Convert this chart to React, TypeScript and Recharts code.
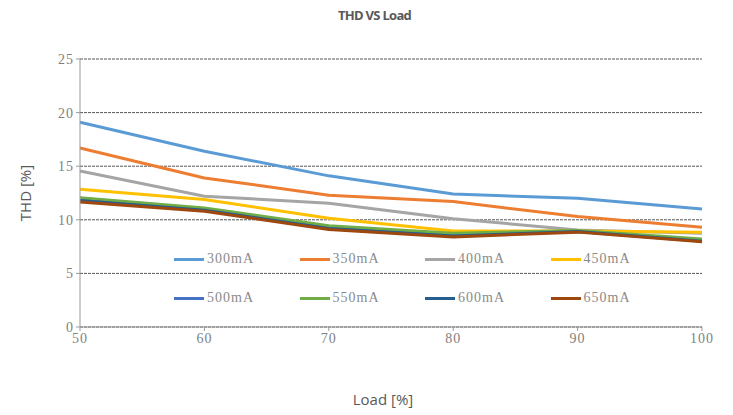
import { LineChart, Line, XAxis, YAxis, CartesianGrid } from 'recharts';

const loads = [50, 60, 70, 80, 90, 100];
const s300 = [19.1, 16.4, 14.1, 12.4, 12.0, 11.0];
const s350 = [16.7, 13.9, 12.3, 11.7, 10.3, 9.3];
const s400 = [14.55, 12.2, 11.55, 10.1, 9.05, 8.75];
const s450 = [12.85, 11.9, 10.15, 8.95, 8.95, 8.85];
const s500 = [12.0, 11.0, 9.3, 8.6, 8.9, 8.1];
const s550 = [12.05, 11.1, 9.45, 8.75, 9.0, 8.2];
const s600 = [11.8, 10.9, 9.2, 8.5, 8.9, 8.0];
const s650 = [11.65, 10.8, 9.1, 8.4, 8.85, 7.95];
const yTicks = [0, 5, 10, 15, 20, 25];

const series = [
  { key: 's300', name: '300mA', color: '#5B9BD5', values: s300 },
  { key: 's350', name: '350mA', color: '#ED7D31', values: s350 },
  { key: 's400', name: '400mA', color: '#A5A5A5', values: s400 },
  { key: 's450', name: '450mA', color: '#FFC000', values: s450 },
  { key: 's500', name: '500mA', color: '#4472C4', values: s500 },
  { key: 's550', name: '550mA', color: '#70AD47', values: s550 },
  { key: 's600', name: '600mA', color: '#255E91', values: s600 },
  { key: 's650', name: '650mA', color: '#9E480E', values: s650 },
];

const data = loads.map((load, i) => {
  const row: Record<string, number> = { load };
  series.forEach(s => { row[s.key] = s.values[i]; });
  return row;
});

const serif = '"Liberation Serif", serif';
const sans = '"Open Sans", sans-serif';
const tickStyle = { fontSize: 14, fill: '#7f7f7f', fontFamily: serif, letterSpacing: 1 };

function LegendBox() {
  return (
    <div style={{ position: 'absolute', left: 174, top: 252, width: 540, height: 60 }}>
      {series.map((s, i) => {
        const col = i % 4;
        const row = Math.floor(i / 4);
        return (
          <div
            key={s.key}
            style={{
              position: 'absolute', left: col * 125.5, top: row * 39,
              display: 'flex', alignItems: 'center', height: 14, whiteSpace: 'nowrap',
            }}
          >
            <span style={{ display: 'inline-block', width: 30, height: 3, background: s.color, marginRight: 3 }} />
            <span style={{ fontSize: 14, color: '#8a8a8a', fontFamily: serif, letterSpacing: 1 }}>{s.name}</span>
          </div>
        );
      })}
    </div>
  );
}

export default function App() {
  return (
    <div style={{ position: 'absolute', left: 0, top: 0, width: 733, height: 415, background: '#fff' }}>
      <LineChart width={733} height={415} data={data} margin={{ top: 59, right: 31, left: 30, bottom: 58 }}>
        <CartesianGrid vertical={false} stroke="#555" strokeDasharray="3 1" />
        <XAxis
          dataKey="load"
          type="number"
          domain={[50, 100]}
          ticks={loads}
          tick={tickStyle}
          axisLine={{ stroke: '#999' }}
          tickLine={{ stroke: '#999' }}
          tickSize={4}
          height={30}
        />
        <YAxis
          type="number"
          domain={[0, 25]}
          ticks={yTicks}
          tick={tickStyle}
          axisLine={{ stroke: '#999' }}
          tickLine={{ stroke: '#999' }}
          tickSize={4}
          width={50}
        />
        {series.map(s => (
          <Line
            key={s.key}
            dataKey={s.key}
            name={s.name}
            type="linear"
            stroke={s.color}
            strokeWidth={3}
            strokeLinejoin="round"
            dot={false}
            isAnimationActive={false}
          />
        ))}
      </LineChart>
      <LegendBox />
      <div style={{
        position: 'absolute', top: 6, left: 0, width: 733, textAlign: 'center',
        fontFamily: sans, fontWeight: 700, fontSize: 13, color: '#595959', paddingLeft: 16, boxSizing: 'border-box',
        letterSpacing: -0.7,
      }}>
        THD VS Load
      </div>
      <div style={{
        position: 'absolute', top: 389, left: 0, width: 733, textAlign: 'center',
        fontFamily: sans, fontSize: 15, color: '#595959', paddingLeft: 33, boxSizing: 'border-box',
      }}>
        Load [%]
      </div>
      <div style={{
        position: 'absolute', left: 25, top: 193, transform: 'translate(-50%, -50%) rotate(-90deg)',
        fontFamily: sans, fontSize: 15, color: '#595959', whiteSpace: 'nowrap',
      }}>
        THD [%]
      </div>
    </div>
  );
}
